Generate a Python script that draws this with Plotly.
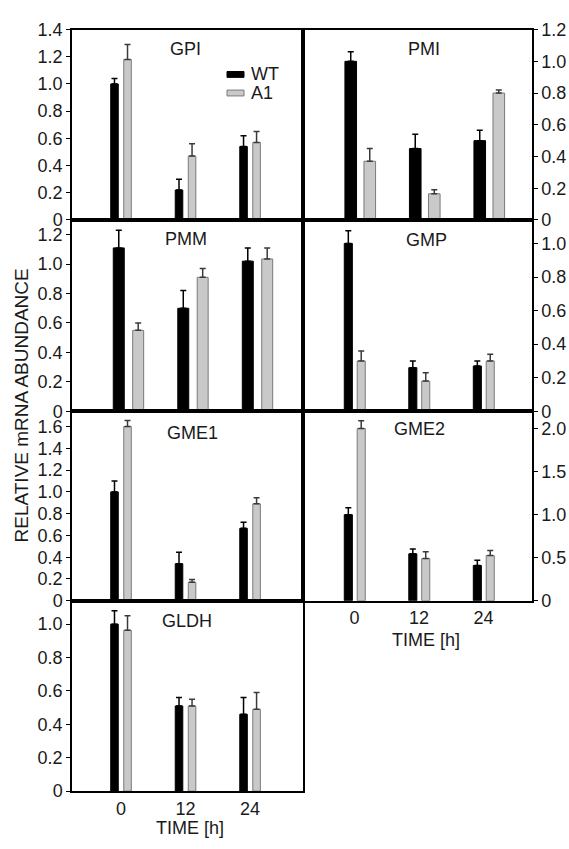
import plotly.graph_objects as go

W, H = 569, 849

# ---------------- data ----------------
times = ["0", "12", "24"]
genes = ["GPI", "PMI", "PMM", "GMP", "GME1", "GME2", "GLDH"]
series_names = ["WT", "A1"]

gpi_wt = [1.00, 0.22, 0.54]
gpi_wt_err = [0.04, 0.08, 0.08]
gpi_a1 = [1.18, 0.47, 0.57]
gpi_a1_err = [0.11, 0.09, 0.08]

pmi_wt = [1.00, 0.45, 0.50]
pmi_wt_err = [0.06, 0.09, 0.065]
pmi_a1 = [0.37, 0.165, 0.80]
pmi_a1_err = [0.08, 0.025, 0.02]

pmm_wt = [1.11, 0.70, 1.02]
pmm_wt_err = [0.12, 0.12, 0.09]
pmm_a1 = [0.55, 0.91, 1.035]
pmm_a1_err = [0.05, 0.06, 0.075]

gmp_wt = [1.00, 0.26, 0.27]
gmp_wt_err = [0.075, 0.04, 0.03]
gmp_a1 = [0.30, 0.18, 0.30]
gmp_a1_err = [0.06, 0.05, 0.04]

gme1_wt = [1.00, 0.34, 0.665]
gme1_wt_err = [0.10, 0.105, 0.055]
gme1_a1 = [1.60, 0.17, 0.89]
gme1_a1_err = [0.055, 0.025, 0.055]

gme2_wt = [1.00, 0.545, 0.41]
gme2_wt_err = [0.08, 0.055, 0.06]
gme2_a1 = [2.00, 0.49, 0.525]
gme2_a1_err = [0.09, 0.08, 0.06]

gldh_wt = [1.00, 0.51, 0.46]
gldh_wt_err = [0.08, 0.05, 0.10]
gldh_a1 = [0.963, 0.51, 0.49]
gldh_a1_err = [0.087, 0.04, 0.10]

ticks_02_14 = [0, 0.2, 0.4, 0.6, 0.8, 1.0, 1.2, 1.4]
ticklabels_02_14 = ["0", "0.2", "0.4", "0.6", "0.8", "1.0", "1.2", "1.4"]
ticks_02_16 = [0, 0.2, 0.4, 0.6, 0.8, 1.0, 1.2, 1.4, 1.6]
ticklabels_02_16 = ["0", "0.2", "0.4", "0.6", "0.8", "1.0", "1.2", "1.4", "1.6"]
ticks_05_20 = [0, 0.5, 1.0, 1.5, 2.0]
ticklabels_05_20 = ["0", "0.5", "1.0", "1.5", "2.0"]

y_title = "RELATIVE mRNA ABUNDANCE"
x_title = "TIME [h]"

# ---------------- layout helpers ----------------
def fx(px):
    return px / W

def fy(py):
    return 1 - py / H

COLS = {"L": (72, 303), "R": (303, 532)}
ROWS = [(20, 215), (215, 411), (411, 605), (605, 800)]

FONT = "Arial, Liberation Sans, sans-serif"
TXT = "#1a1a1a"
FS = 18

STYLE = {
    "WT": dict(fill="#000000", line="#000000", err="#000000"),
    "A1": dict(fill="#c9c9c9", line="#7a7a7a", err="#3a3a3a"),
}

panels = [
    dict(gene="GPI", col="L", row=0, wt=gpi_wt, wte=gpi_wt_err, a1=gpi_a1, a1e=gpi_a1_err,
         ymax=1.4005, nt=8, tv=ticks_02_14, tt=ticklabels_02_14, xr=[-0.76, 2.82],
         bw=0.117, wo=-0.16, ao=0.042, lab=(185, 40), xlab=False),
    dict(gene="PMI", col="R", row=0, wt=pmi_wt, wte=pmi_wt_err, a1=pmi_a1, a1e=pmi_a1_err,
         ymax=1.2005, nt=7, tv=ticks_02_14, tt=ticklabels_02_14, xr=[-0.89, 2.66],
         bw=0.18, wo=-0.24, ao=0.055, lab=(424, 40), xlab=False),
    dict(gene="PMM", col="L", row=1, wt=pmm_wt, wte=pmm_wt_err, a1=pmm_a1, a1e=pmm_a1_err,
         ymax=1.3, nt=7, tv=ticks_02_14, tt=ticklabels_02_14, xr=[-0.876, 2.705],
         bw=0.17, wo=-0.236, ao=0.065, lab=(186, 235), xlab=False),
    dict(gene="GMP", col="R", row=1, wt=gmp_wt, wte=gmp_wt_err, a1=gmp_a1, a1e=gmp_a1_err,
         ymax=1.14, nt=6, tv=ticks_02_14, tt=ticklabels_02_14, xr=[-0.80, 2.75],
         bw=0.125, wo=-0.16, ao=0.04, lab=(426, 236), xlab=False),
    dict(gene="GME1", col="L", row=2, wt=gme1_wt, wte=gme1_wt_err, a1=gme1_a1, a1e=gme1_a1_err,
         ymax=1.74, nt=9, tv=ticks_02_16, tt=ticklabels_02_16, xr=[-0.76, 2.82],
         bw=0.117, wo=-0.16, ao=0.042, lab=(192, 433), xlab=False),
    dict(gene="GME2", col="R", row=2, wt=gme2_wt, wte=gme2_wt_err, a1=gme2_a1, a1e=gme2_a1_err,
         ymax=2.2, nt=5, tv=ticks_05_20, tt=ticklabels_05_20, xr=[-0.80, 2.75],
         bw=0.125, wo=-0.16, ao=0.04, lab=(419, 429), xlab=True),
    dict(gene="GLDH", col="L", row=3, wt=gldh_wt, wte=gldh_wt_err, a1=gldh_a1, a1e=gldh_a1_err,
         ymax=1.14, nt=6, tv=ticks_02_14, tt=ticklabels_02_14, xr=[-0.76, 2.82],
         bw=0.117, wo=-0.16, ao=0.042, lab=(187, 626), xlab=True),
]

fig = go.Figure()
xpos = list(range(len(times)))
annotations = []
shapes = []
layout = {}

for i, p in enumerate(panels, start=1):
    xa = "x" if i == 1 else f"x{i}"
    ya = "y" if i == 1 else f"y{i}"
    c0, c1 = COLS[p["col"]]
    r0, r1 = ROWS[p["row"]]
    for name, vals, errs, off in [
        ("WT", p["wt"], p["wte"], p["wo"]),
        ("A1", p["a1"], p["a1e"], p["ao"]),
    ]:
        st = STYLE[name]
        fig.add_trace(go.Bar(
            x=xpos, y=vals, name=name, xaxis=xa, yaxis=ya,
            width=p["bw"], offset=off,
            marker=dict(color=st["fill"], line=dict(color=st["line"], width=1)),
            error_y=dict(type="data", symmetric=False, array=errs,
                         arrayminus=[0] * len(errs), color=st["err"],
                         thickness=1.5, width=3),
            showlegend=False,
        ))
    kx = "xaxis" if i == 1 else f"xaxis{i}"
    ky = "yaxis" if i == 1 else f"yaxis{i}"
    layout[kx] = dict(
        domain=[fx(c0), fx(c1)], anchor=ya, range=p["xr"],
        showline=True, mirror=True, linecolor="black", linewidth=1.5,
        showgrid=False, zeroline=False, ticks="",
        tickvals=xpos, ticktext=times, showticklabels=p["xlab"],
        tickfont=dict(family=FONT, size=FS, color=TXT),
        fixedrange=True,
    )
    layout[ky] = dict(
        domain=[fy(r1), fy(r0)], anchor=xa, range=[0, p["ymax"]],
        side="left" if p["col"] == "L" else "right",
        showline=True, mirror=True, linecolor="black", linewidth=1.5,
        showgrid=False, zeroline=False,
        ticks="outside", ticklen=4, tickwidth=1.2, tickcolor="black",
        tickvals=p["tv"][:p["nt"]], ticktext=p["tt"][:p["nt"]],
        tickfont=dict(family=FONT, size=FS, color=TXT),
        fixedrange=True,
    )
    annotations.append(dict(
        text=p["gene"], x=fx(p["lab"][0]), y=fy(p["lab"][1]),
        xref="paper", yref="paper", showarrow=False,
        xanchor="center", yanchor="middle",
        font=dict(family=FONT, size=FS, color=TXT),
    ))

# legend (key) inside the GPI panel
for k, name in enumerate(series_names):
    st = STYLE[name]
    yc = 66 + 19 * k
    shapes.append(dict(type="rect", xref="paper", yref="paper",
                       x0=fx(227), x1=fx(244), y0=fy(yc + 3), y1=fy(yc - 3),
                       fillcolor=st["fill"], line=dict(color=st["line"], width=1)))
    annotations.append(dict(
        text=name, x=fx(249), y=fy(yc), xref="paper", yref="paper",
        showarrow=False, xanchor="left", yanchor="middle",
        font=dict(family=FONT, size=FS, color=TXT),
    ))

annotations.append(dict(
    text=y_title, x=fx(21), y=fy(405), xref="paper", yref="paper",
    showarrow=False, textangle=-90, xanchor="center", yanchor="middle",
    font=dict(family=FONT, size=19, color=TXT),
))
annotations.append(dict(
    text=x_title, x=fx(190), y=fy(838), xref="paper", yref="paper",
    showarrow=False, xanchor="center", yanchor="middle",
    font=dict(family=FONT, size=FS, color=TXT),
))
annotations.append(dict(
    text=x_title, x=fx(426), y=fy(645), xref="paper", yref="paper",
    showarrow=False, xanchor="center", yanchor="middle",
    font=dict(family=FONT, size=FS, color=TXT),
))

fig.update_layout(
    width=W, height=H,
    margin=dict(l=0, r=0, t=0, b=0),
    paper_bgcolor="white", plot_bgcolor="white",
    annotations=annotations,
    shapes=shapes,
    showlegend=False,
    **layout,
)

fig.write_html("out.html")
